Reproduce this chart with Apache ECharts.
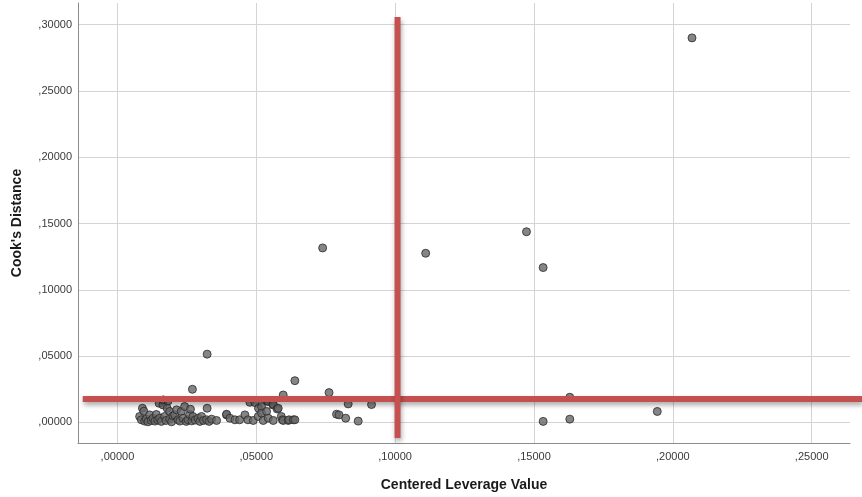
<!DOCTYPE html>
<html>
<head>
<meta charset="utf-8">
<script src="https://cdn.jsdelivr.net/npm/echarts@6/dist/echarts.min.js"></script>
<style>
html,body{margin:0;padding:0;background:#fff;}
#chart{width:862px;height:497px;}
</style>
</head>
<body>
<div id="chart"></div>
<script>
// Tick values
const xTicks = [0, 0.05, 0.10, 0.15, 0.20, 0.25];
const yTicks = [0, 0.05, 0.10, 0.15, 0.20, 0.25, 0.30];

// Points: [Centered Leverage Value, Cook's Distance]
const clusterLow = [
  [0.0080,0.0045],[0.0086,0.0020],[0.0090,0.0107],[0.0095,0.0085],[0.0098,0.0010],[0.0104,0.0025],
  [0.0110,0.0005],[0.0116,0.0057],[0.0122,0.0015],[0.0128,0.0032],[0.0135,0.0010],[0.0140,0.0060],
  [0.0145,0.0020],[0.0150,0.0145],[0.0152,0.0032],[0.0158,0.0008],[0.0164,0.0132],[0.0165,0.0170],
  [0.0170,0.0045],[0.0175,0.0015],[0.0179,0.0107],[0.0182,0.0162],[0.0188,0.0025],[0.0188,0.0083],
  [0.0195,0.0005],[0.0200,0.0050],[0.0206,0.0057],[0.0213,0.0095],[0.0218,0.0020],[0.0225,0.0010],
  [0.0230,0.0083],[0.0236,0.0032],[0.0242,0.0120],[0.0248,0.0008],[0.0254,0.0020],[0.0260,0.0060],
  [0.0263,0.0100],[0.0268,0.0012],[0.0272,0.0045],[0.0280,0.0018],[0.0290,0.0032],[0.0297,0.0008],
  [0.0303,0.0045],[0.0310,0.0015],[0.0321,0.0020],[0.0323,0.0107],[0.0330,0.0008],[0.0339,0.0025],
  [0.0357,0.0015],[0.0270,0.0250],[0.0323,0.0515]
];
const clusterMid = [
  [0.0393,0.0057],[0.0393,0.0062],[0.0405,0.0032],[0.0423,0.0020],[0.0440,0.0020],[0.0459,0.0057],
  [0.0470,0.0020],[0.0477,0.0152],[0.0489,0.0015],[0.0495,0.0150],[0.0507,0.0045],[0.0508,0.0107],
  [0.0519,0.0120],[0.0519,0.0070],[0.0525,0.0015],[0.0537,0.0083],[0.0539,0.0162],[0.0543,0.0158],
  [0.0543,0.0032],[0.0560,0.0132],[0.0561,0.0137],[0.0561,0.0015],[0.0575,0.0102],[0.0579,0.0107],
  [0.0590,0.0045],[0.0594,0.0020],[0.0597,0.0207],[0.0597,0.0015],[0.0615,0.0015],[0.0618,0.0020],
  [0.0633,0.0020],[0.0639,0.0020],[0.0639,0.0315]
];
const outliers = [
  [0.0739,0.1316],[0.0762,0.0225],[0.0789,0.0062],[0.0798,0.0057],[0.0822,0.0032],[0.0831,0.0140],
  [0.0867,0.0010],[0.0915,0.0135],[0.1110,0.1276],[0.1473,0.1438],[0.1533,0.1168],[0.1533,0.0008],
  [0.1629,0.0025],[0.1629,0.0190],[0.1944,0.0083],[0.2069,0.2900]
];

// Reference lines (cut-offs)
const leverageCutoff = [[0.1009, -0.0103], [0.1009, 0.3058]];
const cooksCutoff = [[-0.0125, 0.0190], [0.2682, 0.0190]];

const fmt = v => (v < 0 ? '-' : '') + Math.abs(v).toFixed(5).replace(/^0\./, ',');
const font = '"Liberation Sans", Arial, sans-serif';

const chart = echarts.init(document.getElementById('chart'), null, {renderer: 'canvas'});
const pointStyle = {color: '#676767', borderColor: '#2a2a2a', borderWidth: 1};
const redStyle = {
  color: '#c4504f', width: 6,
  shadowColor: 'rgba(0,0,0,0.35)', shadowBlur: 5, shadowOffsetY: 3, shadowOffsetX: 1
};

chart.setOption({
  animation: false,
  backgroundColor: '#ffffff',
  grid: [
    {left: 78, right: 12, top: 3, bottom: 52, containLabel: false},
    {left: 78, right: 0, top: 3, bottom: 52, containLabel: false}
  ],
  xAxis: [{
    type: 'value', min: -0.0142, max: 0.2638, gridIndex: 0,
    name: 'Centered Leverage Value', nameLocation: 'middle', nameGap: 35,
    nameTextStyle: {fontFamily: font, fontSize: 14, fontWeight: 'bold', color: '#1a1a1a'},
    axisLine: {show: true, onZero: false, lineStyle: {color: '#8c8c8c', width: 1}},
    axisTick: {show: false, customValues: xTicks},
    axisLabel: {customValues: xTicks, formatter: fmt, fontFamily: font, fontSize: 11, color: '#3a3a3a', margin: 8},
    splitLine: {show: true, lineStyle: {color: '#d4d4d4', width: 1}}
  }, {
    type: 'value', min: -0.0142, max: 0.2682, gridIndex: 1, show: false
  }],
  yAxis: [{
    type: 'value', min: -0.0155, max: 0.3163, gridIndex: 0,
    name: "Cook's Distance", nameLocation: 'middle', nameGap: 54,
    nameTextStyle: {fontFamily: font, fontSize: 14, fontWeight: 'bold', color: '#1a1a1a'},
    axisLine: {show: true, onZero: false, lineStyle: {color: '#8c8c8c', width: 1}},
    axisTick: {show: false, customValues: yTicks},
    axisLabel: {customValues: yTicks, formatter: fmt, fontFamily: font, fontSize: 11, color: '#3a3a3a', margin: 6},
    splitLine: {show: true, lineStyle: {color: '#d4d4d4', width: 1}}
  }, {
    type: 'value', min: -0.0155, max: 0.3163, gridIndex: 1, show: false
  }],
  series: [
    {type: 'scatter', data: clusterLow, symbolSize: 8, itemStyle: pointStyle, z: 2},
    {type: 'scatter', data: clusterMid, symbolSize: 8, itemStyle: pointStyle, z: 2},
    {type: 'scatter', data: outliers, symbolSize: 8, itemStyle: pointStyle, z: 2},
    {type: 'line', data: cooksCutoff, xAxisIndex: 1, yAxisIndex: 1, showSymbol: false, symbol: 'none', clip: false, lineStyle: redStyle, z: 5, silent: true},
    {type: 'line', data: leverageCutoff, xAxisIndex: 1, yAxisIndex: 1, showSymbol: false, symbol: 'none', clip: false, lineStyle: redStyle, z: 6, silent: true}
  ]
});
</script>
</body>
</html>
